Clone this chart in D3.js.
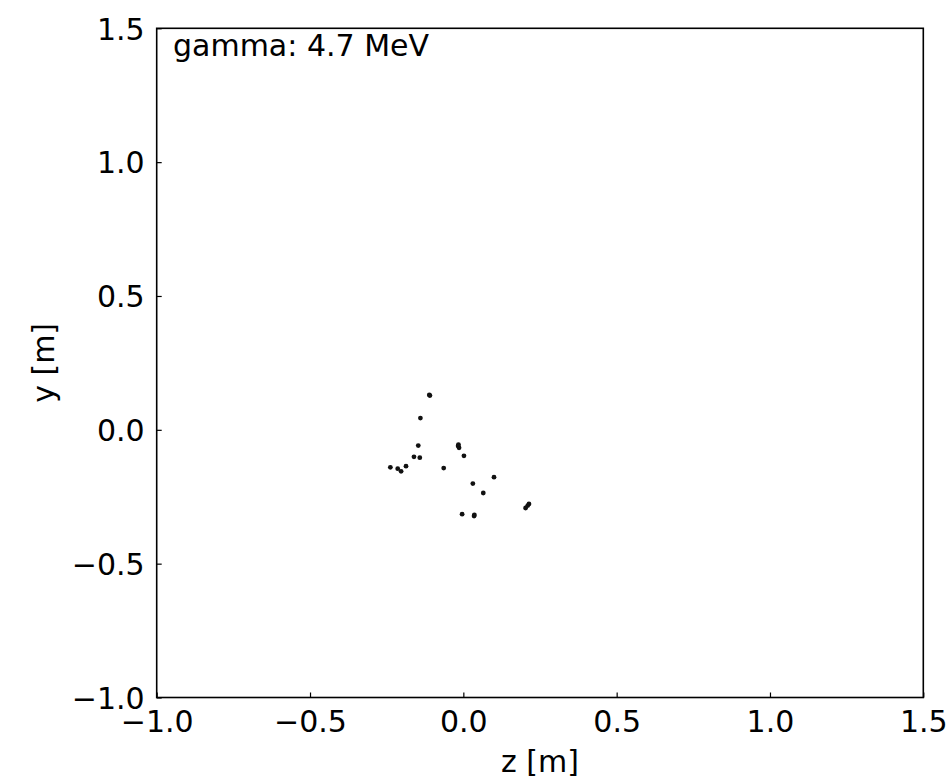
<!DOCTYPE html>
<html><head><meta charset="utf-8">
<script src="https://cdn.jsdelivr.net/npm/d3@7"></script>
<style>body{margin:0;background:#fff}svg{display:block}text{font-family:"DejaVu Sans",sans-serif;fill:#000}</style>
</head><body>
<script>
const zValues = [-0.111,-0.109,-0.140,-0.147,-0.017,-0.014,-0.016,0.002,-0.161,-0.142,-0.238,-0.214,-0.203,-0.187,-0.064,0.100,0.031,0.065,0.214,0.210,0.203,-0.004,0.035,0.036];
const yValues = [0.130,0.128,0.044,-0.059,-0.060,-0.067,-0.055,-0.097,-0.101,-0.104,-0.140,-0.145,-0.155,-0.136,-0.143,-0.177,-0.201,-0.236,-0.277,-0.283,-0.292,-0.315,-0.322,-0.318];
const xTicks = [-1.0,-0.5,0.0,0.5,1.0,1.5];
const yTicks = [-1.0,-0.5,0.0,0.5,1.0,1.5];
const label = "gamma: 4.7 MeV";

const W=948,H=781,FS="30px";
const m={left:156.7,right:923.3,top:28.3,bottom:697.5};
const svg=d3.select("body").append("svg").attr("width",W).attr("height",H);
const x=d3.scaleLinear().domain([-1,1.5]).range([m.left,m.right]);
const y=d3.scaleLinear().domain([-1,1.5]).range([m.bottom,m.top]);
const fmt=d=>d3.format(".1f")(d).replace("-","\u2212");

const xa=svg.append("g").attr("transform",`translate(0,${m.bottom})`)
 .call(d3.axisBottom(x).tickValues(xTicks).tickFormat(fmt).tickSizeInner(-5).tickSizeOuter(0).tickPadding(13));
const ya=svg.append("g").attr("transform",`translate(${m.left},0)`)
 .call(d3.axisLeft(y).tickValues(yTicks).tickFormat(fmt).tickSizeInner(-5).tickSizeOuter(0).tickPadding(12));
[xa,ya].forEach(a=>{a.select(".domain").remove();a.selectAll("line").attr("stroke","#000").attr("stroke-width",1.2);a.selectAll("text").style("font-size",FS).attr("fill","#000");});
ya.selectAll("text").attr("dy","0.36em");

svg.append("rect").attr("x",m.left).attr("y",m.top).attr("width",m.right-m.left).attr("height",m.bottom-m.top)
 .attr("fill","none").attr("stroke","#000").attr("stroke-width",1.6);

svg.append("g").selectAll("circle").data(zValues.map((z,i)=>[z,yValues[i]])).join("circle")
 .attr("cx",d=>x(d[0])).attr("cy",d=>y(d[1])).attr("r",2.4).attr("fill","#111");

svg.append("text").attr("x",173).attr("y",56).style("font-size",FS).text(label);
svg.append("text").attr("x",(m.left+m.right)/2).attr("y",772).attr("text-anchor","middle").style("font-size",FS).text("z [m]");
svg.append("text").attr("transform",`translate(54,${(m.top+m.bottom)/2}) rotate(-90)`).attr("text-anchor","middle").style("font-size",FS).text("y [m]");
</script>
</body></html>
